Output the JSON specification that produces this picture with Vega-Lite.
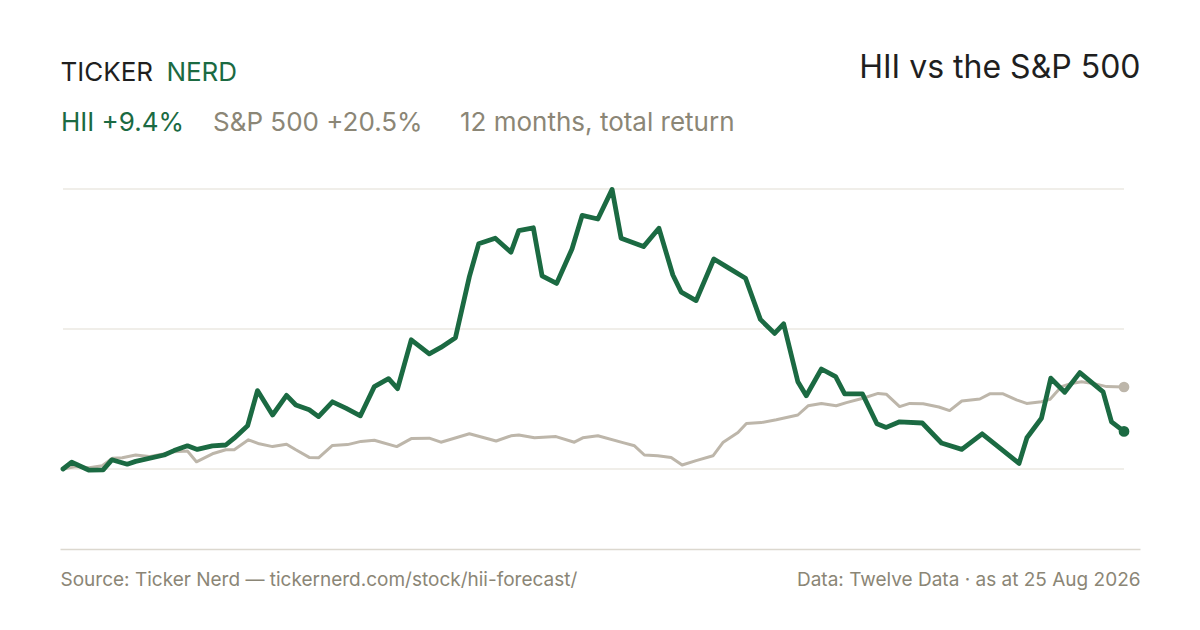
{
  "$schema": "https://vega.github.io/schema/vega-lite/v6.json",
  "width": 1080,
  "height": 368,
  "autosize": {"type": "none"},
  "padding": {"left": 60, "right": 60, "top": 181, "bottom": 81},
  "background": "white",
  "config": {"view": {"stroke": null}, "font": "Inter"},
  "data": {
    "values": [
      {"series": "HII", "day": 0, "ret": 0},
      {"series": "HII", "day": 3, "ret": 1.7},
      {"series": "HII", "day": 9, "ret": -0.3},
      {"series": "HII", "day": 13.8, "ret": -0.2},
      {"series": "HII", "day": 16.8, "ret": 2.3},
      {"series": "HII", "day": 22.1, "ret": 1.2},
      {"series": "HII", "day": 25, "ret": 1.9},
      {"series": "HII", "day": 34.8, "ret": 3.5},
      {"series": "HII", "day": 38.2, "ret": 4.6},
      {"series": "HII", "day": 42.8, "ret": 5.8},
      {"series": "HII", "day": 46.2, "ret": 4.9},
      {"series": "HII", "day": 51.4, "ret": 5.8},
      {"series": "HII", "day": 56, "ret": 6.0},
      {"series": "HII", "day": 58.9, "ret": 7.7},
      {"series": "HII", "day": 63.5, "ret": 10.8},
      {"series": "HII", "day": 66.9, "ret": 19.6},
      {"series": "HII", "day": 72.1, "ret": 13.5},
      {"series": "HII", "day": 76.9, "ret": 18.4},
      {"series": "HII", "day": 80.1, "ret": 16.0},
      {"series": "HII", "day": 84.7, "ret": 14.8},
      {"series": "HII", "day": 87.9, "ret": 13.1},
      {"series": "HII", "day": 92.7, "ret": 16.8},
      {"series": "HII", "day": 97.3, "ret": 15.2},
      {"series": "HII", "day": 102.3, "ret": 13.3},
      {"series": "HII", "day": 107.1, "ret": 20.6},
      {"series": "HII", "day": 112, "ret": 22.6},
      {"series": "HII", "day": 115.1, "ret": 20.1},
      {"series": "HII", "day": 119.8, "ret": 32.3},
      {"series": "HII", "day": 126, "ret": 28.8},
      {"series": "HII", "day": 130, "ret": 30.4},
      {"series": "HII", "day": 135, "ret": 32.8},
      {"series": "HII", "day": 139.8, "ret": 48.1},
      {"series": "HII", "day": 143, "ret": 56.3},
      {"series": "HII", "day": 148.7, "ret": 57.7},
      {"series": "HII", "day": 154.1, "ret": 54.2},
      {"series": "HII", "day": 156.8, "ret": 59.6},
      {"series": "HII", "day": 161.8, "ret": 60.3},
      {"series": "HII", "day": 164.8, "ret": 48.3},
      {"series": "HII", "day": 169.8, "ret": 46.4},
      {"series": "HII", "day": 175.1, "ret": 55.0},
      {"series": "HII", "day": 178.6, "ret": 63.4},
      {"series": "HII", "day": 184, "ret": 62.5},
      {"series": "HII", "day": 188.9, "ret": 69.9},
      {"series": "HII", "day": 192, "ret": 57.7},
      {"series": "HII", "day": 199.7, "ret": 55.6},
      {"series": "HII", "day": 205, "ret": 60.2},
      {"series": "HII", "day": 209.8, "ret": 48.5},
      {"series": "HII", "day": 212.7, "ret": 44.2},
      {"series": "HII", "day": 217.8, "ret": 42.1},
      {"series": "HII", "day": 223.9, "ret": 52.5},
      {"series": "HII", "day": 228.2, "ret": 50.6},
      {"series": "HII", "day": 234.8, "ret": 47.7},
      {"series": "HII", "day": 239.9, "ret": 37.4},
      {"series": "HII", "day": 244.8, "ret": 33.9},
      {"series": "HII", "day": 247.9, "ret": 36.3},
      {"series": "HII", "day": 252.8, "ret": 21.8},
      {"series": "HII", "day": 255.7, "ret": 18.3},
      {"series": "HII", "day": 260.9, "ret": 25.0},
      {"series": "HII", "day": 265.8, "ret": 23.1},
      {"series": "HII", "day": 268.9, "ret": 18.8},
      {"series": "HII", "day": 275, "ret": 18.8},
      {"series": "HII", "day": 280, "ret": 11.3},
      {"series": "HII", "day": 283.2, "ret": 10.4},
      {"series": "HII", "day": 287.8, "ret": 11.8},
      {"series": "HII", "day": 295.6, "ret": 11.5},
      {"series": "HII", "day": 302.2, "ret": 6.5},
      {"series": "HII", "day": 309.2, "ret": 4.9},
      {"series": "HII", "day": 316.2, "ret": 8.8},
      {"series": "HII", "day": 328.9, "ret": 1.4},
      {"series": "HII", "day": 331.6, "ret": 7.8},
      {"series": "HII", "day": 336.6, "ret": 12.7},
      {"series": "HII", "day": 339.8, "ret": 22.7},
      {"series": "HII", "day": 344.6, "ret": 19.2},
      {"series": "HII", "day": 349.8, "ret": 24.1},
      {"series": "HII", "day": 357.8, "ret": 19.3},
      {"series": "HII", "day": 360.7, "ret": 11.8},
      {"series": "HII", "day": 365, "ret": 9.4},
      {"series": "S&P 500", "day": 0, "ret": 0},
      {"series": "S&P 500", "day": 4.4, "ret": 0.6},
      {"series": "S&P 500", "day": 9, "ret": 0.3},
      {"series": "S&P 500", "day": 13.5, "ret": 0.8},
      {"series": "S&P 500", "day": 17, "ret": 2.7},
      {"series": "S&P 500", "day": 20.4, "ret": 2.8},
      {"series": "S&P 500", "day": 25, "ret": 3.5},
      {"series": "S&P 500", "day": 29.6, "ret": 3.1},
      {"series": "S&P 500", "day": 35.4, "ret": 3.9},
      {"series": "S&P 500", "day": 38.2, "ret": 4.3},
      {"series": "S&P 500", "day": 42.8, "ret": 4.5},
      {"series": "S&P 500", "day": 45.9, "ret": 1.8},
      {"series": "S&P 500", "day": 51.4, "ret": 3.8},
      {"series": "S&P 500", "day": 56, "ret": 4.8},
      {"series": "S&P 500", "day": 58.9, "ret": 4.8},
      {"series": "S&P 500", "day": 63.8, "ret": 7.3},
      {"series": "S&P 500", "day": 67.5, "ret": 6.3},
      {"series": "S&P 500", "day": 72.1, "ret": 5.6},
      {"series": "S&P 500", "day": 76.9, "ret": 6.2},
      {"series": "S&P 500", "day": 80.1, "ret": 4.8},
      {"series": "S&P 500", "day": 84.7, "ret": 2.9},
      {"series": "S&P 500", "day": 87.9, "ret": 2.8},
      {"series": "S&P 500", "day": 92.7, "ret": 5.9},
      {"series": "S&P 500", "day": 97.9, "ret": 6.1},
      {"series": "S&P 500", "day": 102.5, "ret": 6.9},
      {"series": "S&P 500", "day": 107.1, "ret": 7.2},
      {"series": "S&P 500", "day": 114.8, "ret": 5.6},
      {"series": "S&P 500", "day": 119.8, "ret": 7.6},
      {"series": "S&P 500", "day": 126, "ret": 7.7},
      {"series": "S&P 500", "day": 130, "ret": 6.7},
      {"series": "S&P 500", "day": 135.2, "ret": 7.8},
      {"series": "S&P 500", "day": 139.8, "ret": 8.8},
      {"series": "S&P 500", "day": 149, "ret": 7.0},
      {"series": "S&P 500", "day": 154.1, "ret": 8.3},
      {"series": "S&P 500", "day": 156.8, "ret": 8.5},
      {"series": "S&P 500", "day": 162.2, "ret": 7.8},
      {"series": "S&P 500", "day": 169.6, "ret": 8.1},
      {"series": "S&P 500", "day": 175.9, "ret": 6.7},
      {"series": "S&P 500", "day": 178.8, "ret": 7.8},
      {"series": "S&P 500", "day": 184, "ret": 8.3},
      {"series": "S&P 500", "day": 192.6, "ret": 6.6},
      {"series": "S&P 500", "day": 196.6, "ret": 5.8},
      {"series": "S&P 500", "day": 200, "ret": 3.5},
      {"series": "S&P 500", "day": 204.6, "ret": 3.3},
      {"series": "S&P 500", "day": 209.2, "ret": 2.9},
      {"series": "S&P 500", "day": 213, "ret": 1.0},
      {"series": "S&P 500", "day": 217.8, "ret": 2.1},
      {"series": "S&P 500", "day": 223.6, "ret": 3.3},
      {"series": "S&P 500", "day": 227, "ret": 6.6},
      {"series": "S&P 500", "day": 232.2, "ret": 9.1},
      {"series": "S&P 500", "day": 235.1, "ret": 11.4},
      {"series": "S&P 500", "day": 240.2, "ret": 11.6},
      {"series": "S&P 500", "day": 245.4, "ret": 12.3},
      {"series": "S&P 500", "day": 252.8, "ret": 13.5},
      {"series": "S&P 500", "day": 256.3, "ret": 15.8},
      {"series": "S&P 500", "day": 260.9, "ret": 16.4},
      {"series": "S&P 500", "day": 266, "ret": 15.8},
      {"series": "S&P 500", "day": 269.5, "ret": 16.6},
      {"series": "S&P 500", "day": 275.2, "ret": 17.7},
      {"series": "S&P 500", "day": 280.4, "ret": 18.9},
      {"series": "S&P 500", "day": 283.2, "ret": 18.7},
      {"series": "S&P 500", "day": 287.8, "ret": 15.6},
      {"series": "S&P 500", "day": 291.3, "ret": 16.4},
      {"series": "S&P 500", "day": 295.9, "ret": 16.3},
      {"series": "S&P 500", "day": 301.3, "ret": 15.5},
      {"series": "S&P 500", "day": 305, "ret": 14.6},
      {"series": "S&P 500", "day": 309.2, "ret": 17.0},
      {"series": "S&P 500", "day": 315.4, "ret": 17.5},
      {"series": "S&P 500", "day": 318.8, "ret": 18.8},
      {"series": "S&P 500", "day": 323.4, "ret": 18.8},
      {"series": "S&P 500", "day": 328, "ret": 17.3},
      {"series": "S&P 500", "day": 331.5, "ret": 16.4},
      {"series": "S&P 500", "day": 336.6, "ret": 16.8},
      {"series": "S&P 500", "day": 339.5, "ret": 17.4},
      {"series": "S&P 500", "day": 343.5, "ret": 20.6},
      {"series": "S&P 500", "day": 346.4, "ret": 21.3},
      {"series": "S&P 500", "day": 350.4, "ret": 21.8},
      {"series": "S&P 500", "day": 354.4, "ret": 21.4},
      {"series": "S&P 500", "day": 359, "ret": 20.6},
      {"series": "S&P 500", "day": 365, "ret": 20.5}
    ]
  },
  "layer": [
    {
      "data": {"values": [{"level": 0}, {"level": 35}, {"level": 70}]},
      "mark": {"type": "rule", "color": "#ebe8e2", "strokeWidth": 1.5},
      "encoding": {
        "y": {
          "field": "level",
          "type": "quantitative",
          "scale": {"domain": [-20, 72], "nice": false, "zero": false},
          "axis": null
        },
        "x": {
          "datum": 0,
          "type": "quantitative",
          "scale": {"domain": [-1.032, 370.5], "nice": false, "zero": false},
          "axis": null
        },
        "x2": {"datum": 365}
      }
    },
    {
      "transform": [{"filter": "datum.series == 'S&P 500'"}],
      "mark": {"type": "line", "strokeWidth": 3, "strokeJoin": "round", "strokeCap": "round"},
      "encoding": {
        "x": {
          "field": "day",
          "type": "quantitative",
          "axis": {
            "orient": "bottom",
            "values": [-1.032, 370.5],
            "labelExpr": "datum.value < 0 ? 'Source: Ticker Nerd — tickernerd.com/stock/hii-forecast/' : 'Data: Twelve Data · as at 25 Aug 2026'",
            "domain": true,
            "domainColor": "#dcd8cf",
            "domainWidth": 1.5,
            "ticks": false,
            "grid": false,
            "labelFlush": true,
            "labelOverlap": false,
            "labelBound": false,
            "labelPadding": 21,
            "labelFontSize": 19,
            "labelFont": "Inter",
            "labelColor": "#8b8676",
            "labelLimit": 700,
            "title": null
          }
        },
        "y": {"field": "ret", "type": "quantitative", "axis": null},
        "color": {
          "field": "series",
          "type": "nominal",
          "scale": {"domain": ["HII", "S&P 500"], "range": ["#1b6a42", "#bdb6aa"]},
          "legend": {
            "orient": "none",
            "legendX": -25,
            "legendY": -71,
            "direction": "horizontal",
            "padding": 0,
            "title": "12 months, total return",
            "titleOrient": "right",
            "titlePadding": 37,
            "titleFontSize": 26,
            "titleFontWeight": "normal",
            "titleFont": "Inter",
            "titleColor": "#8b8676",
            "titleLimit": 500,
            "labelFontSize": 26,
            "labelFont": "Inter",
            "labelLimit": 400,
            "labelOffset": 0,
            "labelExpr": "datum.value == 'HII' ? 'HII +9.4%' : 'S&P 500 +20.5%'",
            "labelColor": {"expr": "datum.value == 'HII' ? '#1b6a42' : '#8b8676'"},
            "symbolSize": 0,
            "symbolOpacity": 0,
            "symbolStrokeWidth": 0,
            "columnPadding": 2
          }
        }
      }
    },
    {
      "transform": [{"filter": "datum.series == 'HII'"}],
      "mark": {"type": "line", "strokeWidth": 4.8, "strokeJoin": "round", "strokeCap": "round"},
      "encoding": {
        "x": {
          "field": "day",
          "type": "quantitative",
          "axis": {
            "orient": "top",
            "values": [-1.032, 35.4],
            "labelExpr": "datum.value < 0 ? 'TICKER' : 'NERD'",
            "labelColor": {"condition": {"test": "datum.value > 0", "value": "#1b6a42"}, "value": "#1f1f1f"},
            "labelAlign": "left",
            "labelBaseline": "alphabetic",
            "labelFontSize": 26,
            "labelFont": "Inter",
            "labelPadding": 101,
            "labelFlush": false,
            "labelOverlap": false,
            "labelBound": false,
            "domain": false,
            "ticks": false,
            "grid": false,
            "title": "HII vs the S&P 500",
            "titleAnchor": "end",
            "titleAlign": "right",
            "titleBaseline": "alphabetic",
            "titleFontSize": 32,
            "titleFontWeight": "normal",
            "titleFont": "Inter",
            "titleColor": "#1f1f1f",
            "titleY": -104
          }
        },
        "y": {"field": "ret", "type": "quantitative"},
        "color": {"field": "series", "type": "nominal"}
      }
    },
    {
      "transform": [{"filter": "datum.day == 365"}],
      "mark": {"type": "circle", "size": 115, "opacity": 1},
      "encoding": {
        "x": {"field": "day", "type": "quantitative", "axis": null},
        "y": {"field": "ret", "type": "quantitative"},
        "color": {"field": "series", "type": "nominal"}
      }
    }
  ],
  "resolve": {"axis": {"x": "independent"}}
}
